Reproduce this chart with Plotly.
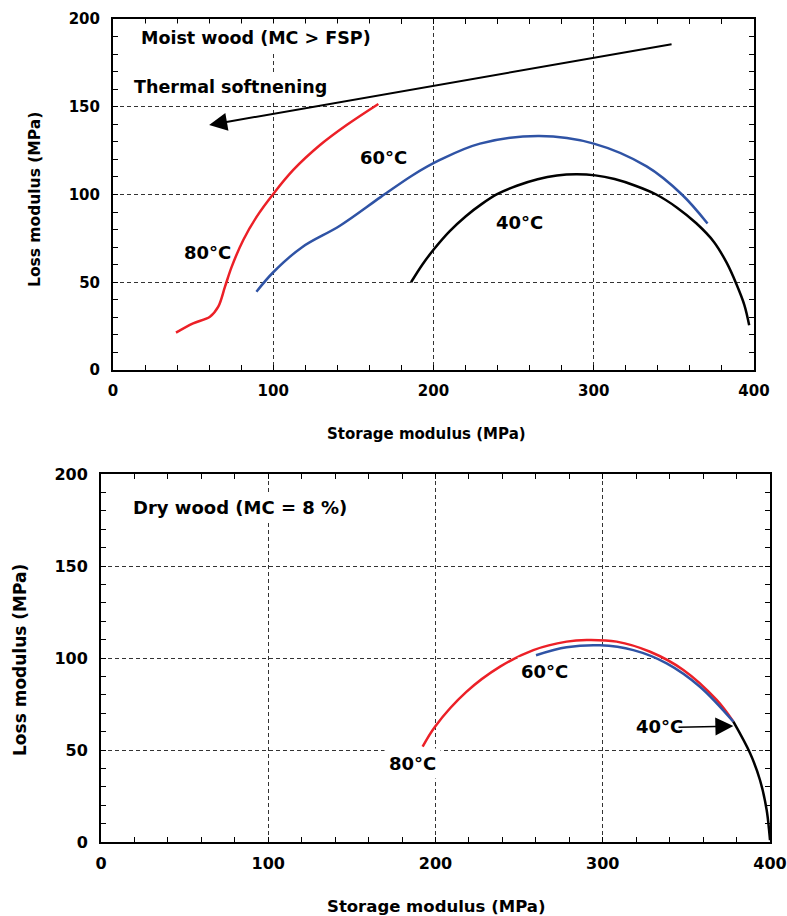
import plotly.graph_objects as go

# ---------------- data ----------------
# Top panel: moist wood (MC > FSP)
moist_80_x = [39.3, 50, 60.5, 65.7, 69.9, 74.1, 81.3, 89.7, 100, 112.5, 129.2, 145.8, 165.6]
moist_80_y = [21.3, 26.6, 30.4, 36.1, 47.5, 58.9, 74.1, 87.4, 100.3, 114, 128.2, 139.6, 151.6]
moist_60_x = [89.5, 100, 118, 141.6, 167, 187, 204, 229, 266, 300, 333, 355, 371]
moist_60_y = [44.6, 55.7, 70, 82.2, 98.5, 111, 119.7, 129, 133.3, 129, 116, 100, 83.5]
moist_40_x = [186, 193, 200, 210, 220, 230, 240, 252, 265, 277, 289, 301, 313, 326, 339,
              352, 364, 375, 383, 389, 394, 397]
moist_40_y = [50, 60, 68.5, 79, 87.5, 94.5, 100.3, 105, 108.7, 110.8, 111.5, 110.9, 108.8, 105, 100,
              92.5, 83.6, 73, 61, 49, 37, 25.5]

# Bottom panel: dry wood (MC = 8 %)
dry_80_x = [192.3, 199.7, 218.6, 238.6, 258.5, 278.4, 290.4, 308.3, 328.3, 348.2, 368.1, 378.1]
dry_80_y = [51.8, 62.7, 81.7, 95.3, 104.3, 108.9, 109.8, 108.9, 103.4, 93.5, 77.2, 65.4]
dry_60_x = [260.1, 278.4, 298.3, 318.3, 338.2, 358.1, 378.1]
dry_60_y = [101.5, 105.8, 106.9, 104.3, 97.1, 84.4, 65.4]
dry_40_x = [378.1, 388.1, 394, 398, 399.6, 400]
dry_40_y = [65.4, 48.2, 33.7, 17.4, 5, 1]

x_ticks = [0, 100, 200, 300, 400]
y_ticks = [0, 50, 100, 150, 200]

RED = "#ec2027"
BLUE = "#2f53a5"
BLACK = "#000000"
FONT = "DejaVu Sans"

W, H = 787, 916

fig = go.Figure()

def add_line(x, y, color, xa, ya):
    fig.add_trace(go.Scatter(x=x, y=y, mode="lines",
                             line=dict(color=color, width=2.5, shape="spline", smoothing=1.0),
                             xaxis=xa, yaxis=ya, showlegend=False, hoverinfo="skip"))

add_line(moist_80_x, moist_80_y, RED, "x", "y")
add_line(moist_60_x, moist_60_y, BLUE, "x", "y")
add_line(moist_40_x, moist_40_y, BLACK, "x", "y")
add_line(dry_80_x, dry_80_y, RED, "x2", "y2")
add_line(dry_60_x, dry_60_y, BLUE, "x2", "y2")
add_line(dry_40_x, dry_40_y, BLACK, "x2", "y2")

def px(x):
    return x / W

def py(y):
    return 1 - y / H

def common(size):
    return dict(showline=True, linecolor="black", linewidth=2, mirror="allticks",
                ticks="inside", ticklen=5, tickwidth=1, tickcolor="black",
                showgrid=True, gridcolor="#333333", gridwidth=1, griddash="4px,3px",
                zeroline=False, automargin=False,
                tickfont=dict(family=FONT, size=size, color="black", weight="bold"))

def xaxis(domain, anchor, size):
    d = common(size)
    d.update(domain=domain, anchor=anchor, range=[0, 400], tickvals=x_ticks,
             minor=dict(dtick=20, ticks="inside", ticklen=5, tickwidth=1, tickcolor="black", showgrid=False),
             ticklabelstandoff=6)
    return d

def yaxis(domain, anchor, size):
    d = common(size)
    d.update(domain=domain, anchor=anchor, range=[0, 200], tickvals=y_ticks,
             minor=dict(dtick=10, ticks="inside", ticklen=5, tickwidth=1, tickcolor="black", showgrid=False),
             ticklabelstandoff=8)
    return d

fig.update_layout(
    width=W, height=H, margin=dict(l=0, r=0, t=0, b=0, autoexpand=False),
    paper_bgcolor="white", plot_bgcolor="white",
    xaxis=xaxis([px(113), px(754)], "y", 15),
    yaxis=yaxis([py(370), py(19)], "x", 15),
    xaxis2=xaxis([px(101), px(770)], "y2", 16),
    yaxis2=yaxis([py(842), py(474)], "x2", 16),
)

ann = []

def txt(text, x, y, xref, yref, size, xanchor="center", bg=None, pad=4, angle=0):
    d = dict(text="<b>%s</b>" % text, x=x, y=y, xref=xref, yref=yref, showarrow=False,
             xanchor=xanchor, yanchor="middle", textangle=angle,
             font=dict(family=FONT, size=size, color="black"))
    if bg:
        d.update(bgcolor=bg, borderpad=pad)
    ann.append(d)

# top panel labels
txt("Moist wood (MC &gt; FSP)", 14.4, 189.2, "x", "y", 17.5, "left", "white")
txt("Thermal softnening", 10, 161.3, "x", "y", 17.5, "left", "white")
txt("60°C", 168.5, 120.8, "x", "y", 18)
txt("40°C", 253.4, 84.3, "x", "y", 18)
txt("80°C", 58.7, 66.7, "x", "y", 18)
ann.append(dict(x=60, y=139.6, ax=349.5, ay=185.8, xref="x", yref="y", axref="x", ayref="y",
                text="", showarrow=True, arrowhead=2, arrowsize=1.8, arrowwidth=2, arrowcolor="black"))

# bottom panel labels
txt("Dry wood (MC = 8 %)", 16.1, 181.9, "x2", "y2", 18, "left", "white")
txt("60°C", 265.1, 92.6, "x2", "y2", 18, bg="white", pad=3)
txt("80°C", 186.1, 42.8, "x2", "y2", 18, bg="white", pad=4)
txt("40°C", 334.2, 62.7, "x2", "y2", 18)
ann.append(dict(x=378.1, y=63, ax=344.4, ay=62.3, xref="x2", yref="y2", axref="x2", ayref="y2",
                text="", showarrow=True, arrowhead=2, arrowsize=2.4, arrowwidth=1.5, arrowcolor="black"))

# axis titles
txt("Storage modulus (MPa)", px(427), py(434), "paper", "paper", 15)
txt("Storage modulus (MPa)", px(436), py(906), "paper", "paper", 16.5)
txt("Loss modulus (MPa)", px(35), py(200), "paper", "paper", 15.5, angle=-90)
txt("Loss modulus (MPa)", px(20), py(660), "paper", "paper", 17, angle=-90)

fig.update_layout(annotations=ann)

fig.write_html("out.html")
